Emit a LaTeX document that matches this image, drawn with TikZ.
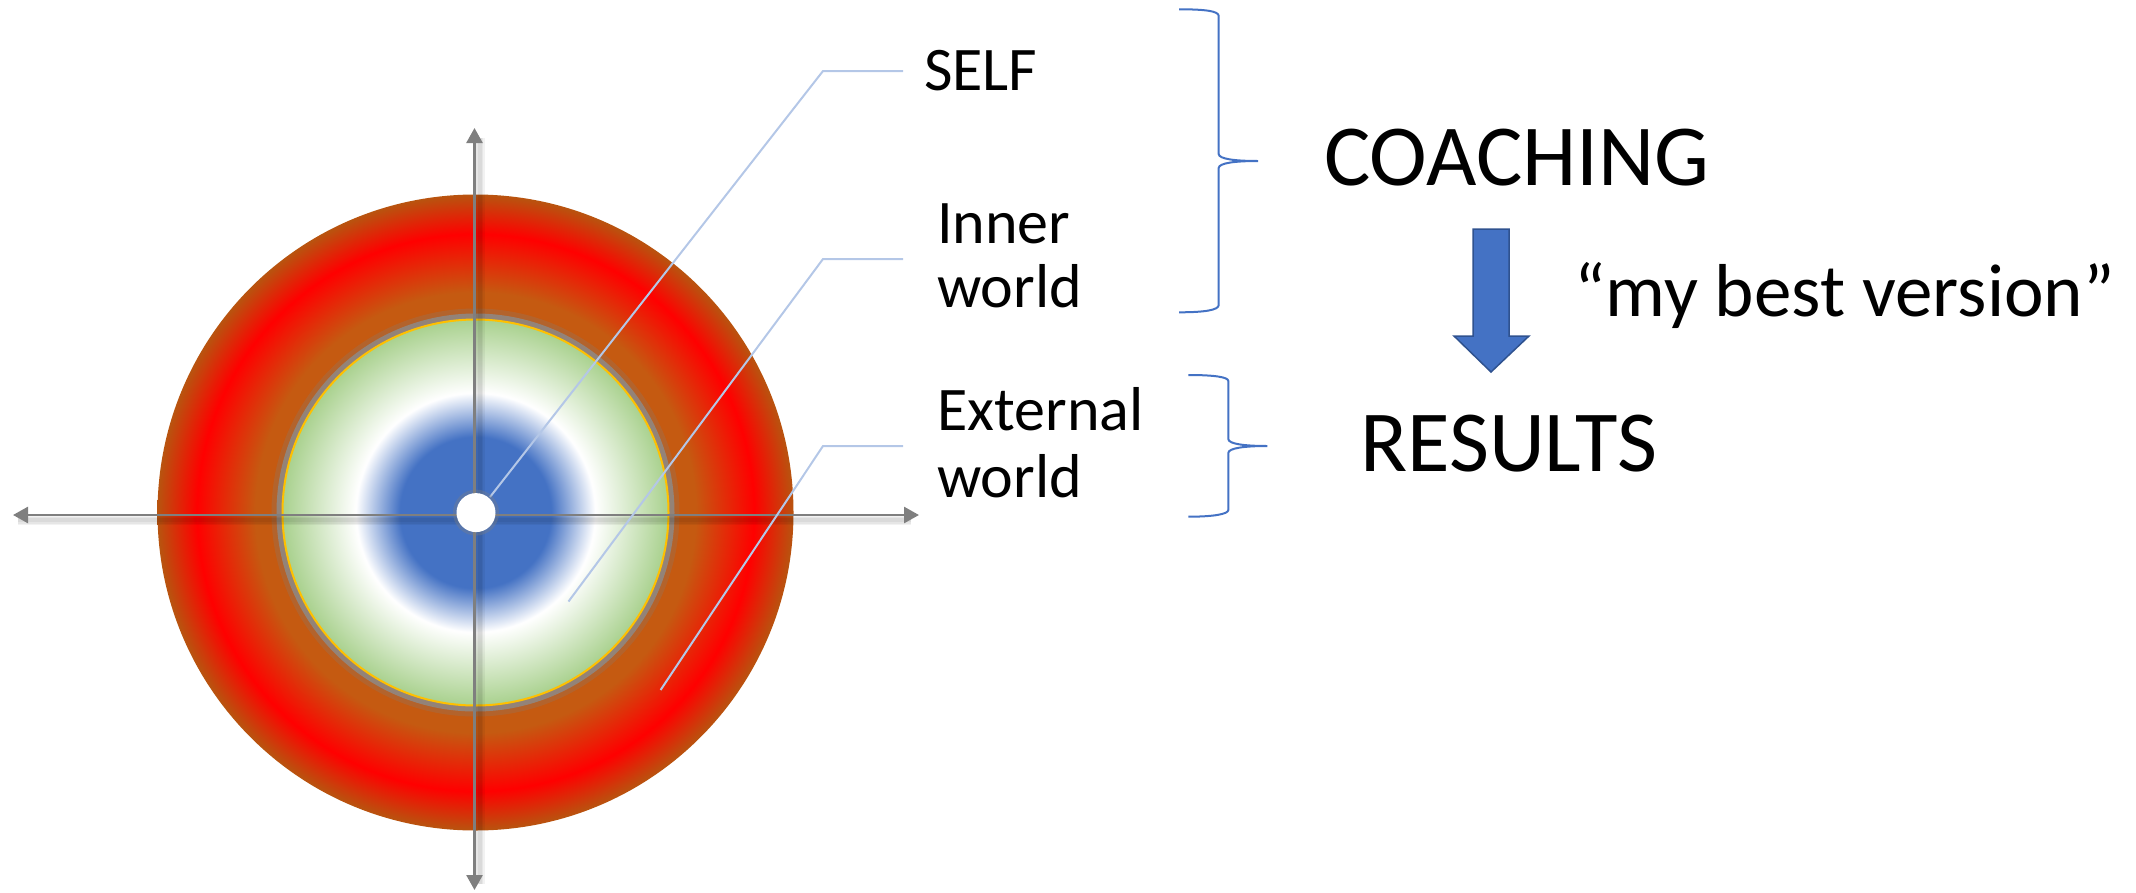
\documentclass[tikz,border=0pt]{standalone}
\usepackage{fontspec}
\setmainfont{Carlito}
\usetikzlibrary{arrows.meta}
\definecolor{ringbrown}{HTML}{C55A11}
\definecolor{ringedge}{HTML}{B8540F}
\definecolor{ringred}{HTML}{FF0000}
\definecolor{coreblue}{HTML}{4472C4}
\definecolor{coregreen}{HTML}{A9D18E}
\definecolor{leader}{HTML}{B4C7E7}
\definecolor{bracecol}{HTML}{4472C4}
\definecolor{axiscol}{HTML}{7F7F7F}
\definecolor{arrowedge}{HTML}{2F528F}
\definecolor{ringyellow}{HTML}{FFC000}
\pgfdeclareradialshading{ringshade}{\pgfpoint{0bp}{0bp}}{color(0bp)=(ringbrown); color(17.3bp)=(ringbrown); color(21.9bp)=(ringred); color(25bp)=(ringedge); color(50bp)=(ringedge)}
\pgfdeclareradialshading{coreshade}{\pgfpoint{0bp}{0bp}}{color(0bp)=(coreblue); color(9.8bp)=(coreblue); color(15.5bp)=(white); color(25bp)=(coregreen); color(50bp)=(coregreen)}
\begin{document}
\begin{tikzpicture}[x=1pt,y=-1pt,
  axis/.style={draw=axiscol, line width=2.6pt, {Triangle[length=15pt,width=16pt]}-{Triangle[length=15pt,width=16pt]}},
  axisshadow/.style={draw=black, opacity=0.05, line width=#1},
  leaderline/.style={draw=leader, line width=2pt},
  bracecurve/.style={draw=bracecol, line width=2pt},
  sidetext/.style={anchor=base west, inner sep=0pt, font=\fontsize{62}{74}\selectfont},
  bigtext/.style={anchor=base west, inner sep=0pt, font=\fontsize{87}{104}\selectfont},
  quotetext/.style={anchor=base west, inner sep=0pt, font=\fontsize{75}{90}\selectfont}
]
\useasboundingbox (0,0) rectangle (2136,892);
\coordinate (c) at (475.5,512.5);
% outer ring
\node[circle, minimum size=636pt, inner sep=0pt, shading=ringshade] (outer) at (c) {};
% glow around inner circle
\draw[gray, opacity=0.25, line width=10pt] (c) circle[radius=199];
\draw[gray!90, opacity=0.8, line width=6pt] (c) circle[radius=196];
% inner circle
\node[circle, minimum size=386pt, inner sep=0pt, shading=coreshade] (inner) at (c) {};
\draw[ringyellow, line width=2pt] (c) circle[radius=193];
% axes
\coordinate (xl) at (13,515);
\coordinate (xr) at (919,515);
\coordinate (yt) at (474.5,128);
\coordinate (yb) at (474.5,890);
\foreach \w in {4pt,7pt,10pt}{
  \draw[axisshadow=\w] ([shift={(5,5)}]xl) -- ([shift={(-8,5)}]xr);
  \draw[axisshadow=\w] ([shift={(5,10)}]yt) -- ([shift={(5,-6)}]yb);
}
\draw[axis] (xl) -- (xr);
\draw[axis] (yt) -- (yb);
% leader lines
\coordinate (s0) at (490,497);
\coordinate (s1) at (823,71);
\coordinate (s2) at (903,71);
\coordinate (i0) at (568.5,601.5);
\coordinate (i1) at (823,259);
\coordinate (i2) at (903,259);
\coordinate (e0) at (660.6,690);
\coordinate (e1) at (823,446);
\coordinate (e2) at (903,446);
\draw[leaderline] (s0) -- (s1) -- (s2);
\draw[leaderline] (i0) -- (i1) -- (i2);
\draw[leaderline] (e0) -- (e1) -- (e2);
% centre dot
\fill[gray, opacity=0.35] (476,512.6) circle[radius=23];
\node[circle, fill=white, minimum size=39pt, inner sep=0pt] (dot) at (476,512.6) {};
% labels
\node[sidetext] (self) at (924,90) {SELF};
\node[sidetext] (innerA) at (937,243) {Inner};
\node[sidetext] (innerB) at (937,307) {world};
\node[sidetext] (extA) at (937,430) {External};
\node[sidetext] (extB) at (937,497) {world};
\node[bigtext] (coaching) at (1324,185) {COACHING};
\node[bigtext] (results) at (1360,471) {RESULTS};
\node[quotetext] (best) at (1574,316) {“my best version”};
% braces
\draw[bracecurve] (1179,9.3) .. controls (1205,9.3) and (1218.7,11) .. (1218.7,16) -- (1218.7,154)
  .. controls (1218.7,159) and (1235,161) .. (1258,161)
  .. controls (1235,161) and (1218.7,163) .. (1218.7,168) -- (1218.7,305)
  .. controls (1218.7,310) and (1205,312.3) .. (1179,312.3);
\draw[bracecurve] (1188.3,375) .. controls (1214,375) and (1228.3,377) .. (1228.3,381) -- (1228.3,439)
  .. controls (1228.3,444) and (1245,446) .. (1267.3,446)
  .. controls (1245,446) and (1228.3,448) .. (1228.3,453) -- (1228.3,510)
  .. controls (1228.3,514) and (1214,516.7) .. (1188.3,516.7);
% blue arrow
\draw[fill=coreblue, draw=arrowedge, line width=1.5pt] (1473,229) -- (1509,229) -- (1509,336) -- (1529,336) -- (1491,372) -- (1454,336) -- (1473,336) -- cycle;
\end{tikzpicture}
\end{document}
